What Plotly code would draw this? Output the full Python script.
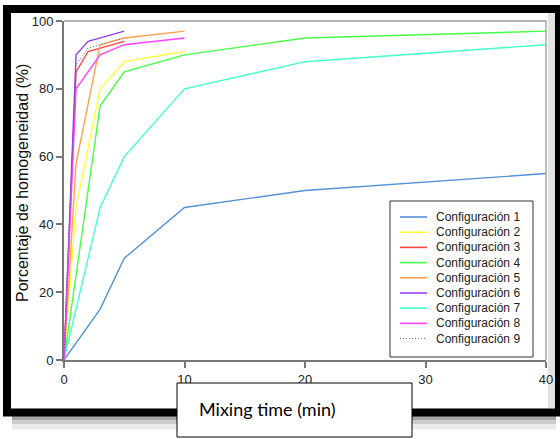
import plotly.graph_objects as go

# ---- data ----
names = [f"Configuración {i}" for i in range(1, 10)]
colors = ["#5590d8", "#ffff3c", "#ff4444", "#44ff44", "#ffa050",
          "#9340f0", "#44ffcc", "#ff44ff", "#666666"]

x1 = [0, 3, 5, 10, 20, 40]
y1 = [0, 15, 30, 45, 50, 55]
x2 = [0, 1, 3, 5, 10]
y2 = [0, 45, 80, 88, 91]
x3 = [0, 1, 2, 5]
y3 = [0, 85, 91, 94]
x4 = [0, 3, 5, 10, 20, 40]
y4 = [0, 75, 85, 90, 95, 97]
x5 = [0, 1, 3, 5, 10]
y5 = [0, 58, 93, 95, 97]
x6 = [0, 1, 2, 5]
y6 = [0, 90, 94, 97]
x7 = [0, 3, 5, 10, 20, 40]
y7 = [0, 45, 60, 80, 88, 93]
x8 = [0, 1, 3, 5, 10]
y8 = [0, 80, 90, 93, 95]
x9 = [0, 1, 2, 3, 5]
y9 = [0, 87, 92, 93, 95]

xs = [x1, x2, x3, x4, x5, x6, x7, x8, x9]
ys = [y1, y2, y3, y4, y5, y6, y7, y8, y9]

xticks = [0, 10, 20, 30, 40]
yticks = [0, 20, 40, 60, 80, 100]

# ---- geometry (pixel layout helpers) ----
W, H = 560, 439
L, R, T, B = 64, 546, 21, 360


def px(x):
    return (x - L) / (R - L)


def py(y):
    return (B - y) / (B - T)


DOT = "1px,2px"

fig = go.Figure()
for i in range(9):
    fig.add_trace(go.Scatter(
        x=xs[i], y=ys[i], mode="lines", name=names[i],
        line=dict(color=colors[i], width=1.0 if i == 8 else 1.4,
                  dash=DOT if i == 8 else "solid"),
        showlegend=False,
    ))

shapes = []
annotations = []

# light grey band at right inside frame
shapes.append(dict(type="rect", xref="paper", yref="paper",
                   x0=px(548), x1=px(555), y0=py(408), y1=py(13),
                   fillcolor="#e4e4e4", line=dict(width=0), layer="below"))
# shadow under frame
for (a, b, c) in [(416, 420, 0.35), (420, 424, 0.2), (424, 429, 0.08)]:
    shapes.append(dict(type="rect", xref="paper", yref="paper",
                       x0=px(12), x1=px(556), y0=py(b), y1=py(a),
                       fillcolor=f"rgba(0,0,0,{c})", line=dict(width=0)))
# black frame
shapes.append(dict(type="rect", xref="paper", yref="paper",
                   x0=px(7), x1=px(559), y0=py(412.5), y1=py(9),
                   line=dict(color="black", width=8)))
# top / right plot border
shapes.append(dict(type="line", xref="paper", yref="paper",
                   x0=0, x1=1, y0=1, y1=1, line=dict(color="#999999", width=1.3)))
shapes.append(dict(type="line", xref="paper", yref="paper",
                   x0=1, x1=1, y0=0, y1=1, line=dict(color="#999999", width=1.3)))

# legend box (manual)
shapes.append(dict(type="rect", xref="paper", yref="paper",
                   x0=px(390), x1=px(533), y0=py(357), y1=py(201),
                   fillcolor="white", line=dict(color="#333333", width=1)))
for i in range(9):
    yy = 217 + 15.2 * i
    shapes.append(dict(type="line", xref="paper", yref="paper",
                       x0=px(400), x1=px(427), y0=py(yy), y1=py(yy),
                       line=dict(color=colors[i], width=1.0 if i == 8 else 1.6,
                                 dash=DOT if i == 8 else "solid")))
    annotations.append(dict(xref="paper", yref="paper", x=px(434), y=py(yy),
                            xanchor="left", yanchor="middle", showarrow=False,
                            text=names[i],
                            font=dict(family="Liberation Sans", size=12, color="#222222")))

# x title box
shapes.append(dict(type="rect", xref="paper", yref="paper",
                   x0=px(177), x1=px(412), y0=py(437), y1=py(383),
                   fillcolor="white", line=dict(color="black", width=1)))
annotations.append(dict(xref="paper", yref="paper", x=px(197), y=py(409),
                        xanchor="left", yanchor="middle", showarrow=False,
                        text="Mixing time (min)",
                        font=dict(family="Lato", size=18, color="black")))
# y title
annotations.append(dict(xref="paper", yref="paper", x=px(22), y=py(183),
                        xanchor="center", yanchor="middle", showarrow=False,
                        textangle=-90, text="Porcentaje de homogeneidad (%)",
                        font=dict(family="Liberation Sans", size=16, color="#111111")))

axis_common = dict(showgrid=False, zeroline=False, showline=True,
                   linecolor="#777777", linewidth=2, ticks="outside",
                   ticklen=6, tickwidth=1.5, tickcolor="#777777",
                   automargin=False,
                   tickfont=dict(family="Liberation Sans", size=13, color="#222222"))

fig.update_layout(
    width=W, height=H,
    margin=dict(l=L, r=W - R, t=T, b=H - B, autoexpand=False),
    paper_bgcolor="white", plot_bgcolor="white",
    xaxis=dict(range=[0, 40], tickvals=xticks, **axis_common),
    yaxis=dict(range=[0, 100], tickvals=yticks, **axis_common),
    shapes=shapes, annotations=annotations,
    showlegend=False,
)

fig.write_html("out.html",
               config={"displayModeBar": False},
               post_script="document.body.style.margin='0px';"
                           "document.body.style.overflow='hidden';")
